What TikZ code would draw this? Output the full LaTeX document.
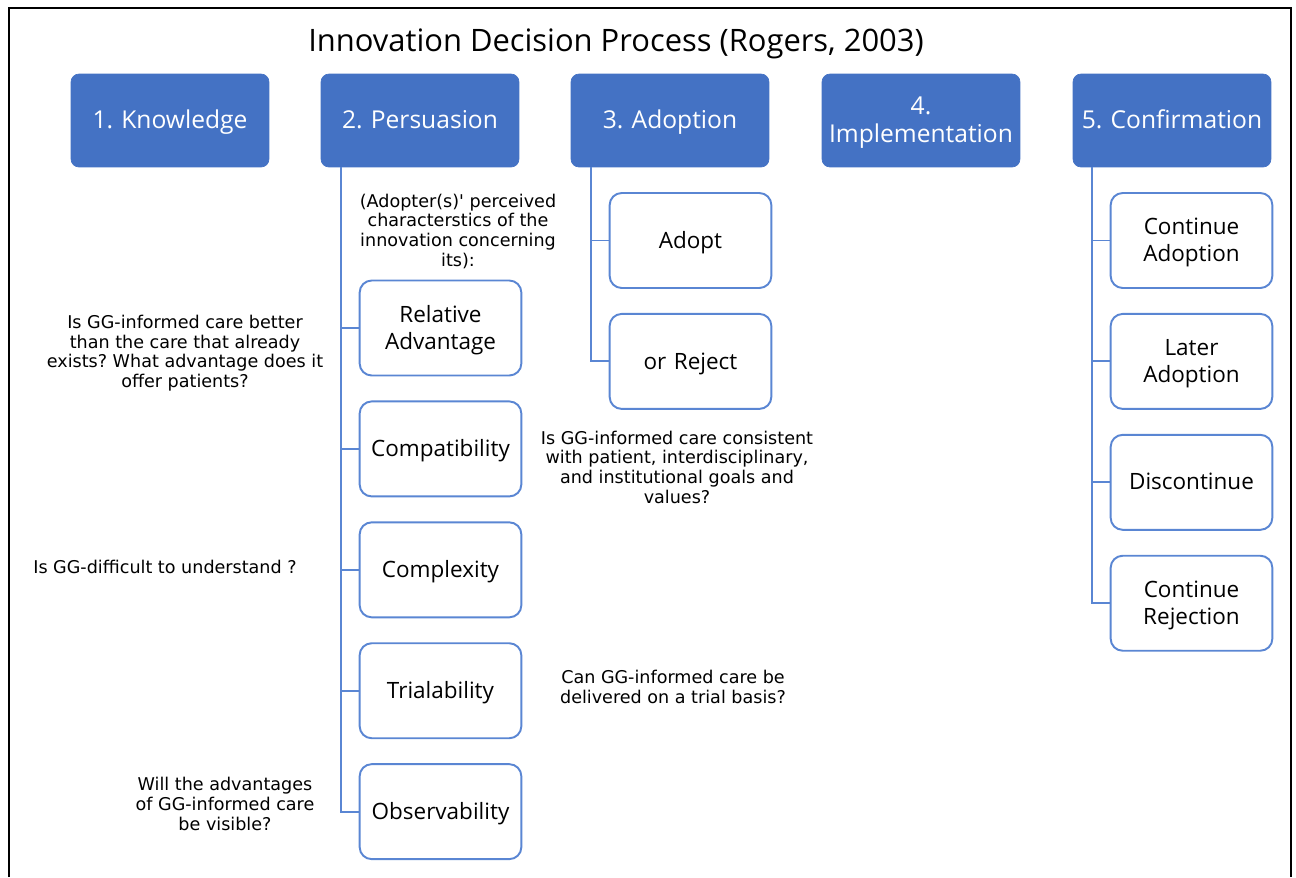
\documentclass[tikz,border=0pt]{standalone}
\usepackage{fontspec}
\setmainfont{Open Sans}
\newfontfamily\notefont{DejaVu Sans}
\usetikzlibrary{positioning}

\definecolor{stageblue}{HTML}{4472C4}
\definecolor{edgeblue}{HTML}{5A86D3}

% invisible rule of given height (#1) and depth (#2), so that
% one- and two-line labels sit on the same optical middle
\newcommand\boxstrut[2]{\rule[-#2]{0pt}{\dimexpr#1+#2\relax}}

\tikzset{
	stage/.style={fill=stageblue, draw=stageblue, rounded corners=0.16cm,
		minimum width=3.96cm, minimum height=1.86cm, text width=3.7cm,
		execute at begin node={\boxstrut{12.6pt}{3.4pt}},
		execute at end node={\boxstrut{12.6pt}{3.4pt}},
		align=center, text=white, font=\fontsize{14}{16}\selectfont},
	choice/.style={fill=white, draw=edgeblue, line width=1.1pt, rounded corners=0.24cm,
		minimum width=3.2cm, minimum height=1.9cm, text width=3cm,
		execute at begin node={\boxstrut{12pt}{3.3pt}},
		execute at end node={\boxstrut{12pt}{3.3pt}},
		align=center, font=\fontsize{12.8}{15.3}\selectfont},
	note/.style={align=center, font=\notefont\fontsize{10}{11.2}\selectfont},
	branch/.style={draw=edgeblue, line width=1.1pt},
}

\begin{document}
\frenchspacing
\begin{tikzpicture}[x=0.02cm, y=-0.02cm]
	\useasboundingbox (0,0) rectangle (1296,877);
	% outer frame, open at the bottom
	\draw[line width=1.6pt] (9,877) -- (9,8) -- (1291,8) -- (1291,877);

	\node (title) at (616,44) {\fontsize{17.6}{20}\selectfont Innovation Decision Process (Rogers, 2003)};

	% the five stages
	\node[stage] (know) at (170,120.5) {1. Knowledge};
	\node[stage] (pers) at (420,120.5) {2. Persuasion};
	\node[stage] (adop) at (670,120.5) {3. Adoption};
	\node[stage] (impl) at (921,120.5) {4.\\Implementation};
	\node[stage] (conf) at (1172,120.5) {5. Confirmation};

	% persuasion: perceived characteristics
	\node[note] (pnote) at (458,231) {(Adopter(s)' perceived\\characterstics of the\\innovation concerning\\its):};
	\node[choice] (reladv) at (440.5,328) {Relative\\Advantage};
	\node[choice, below=0.48cm of reladv] (compat) {Compatibility};
	\node[choice, below=0.48cm of compat] (complex) {Complexity};
	\node[choice, below=0.48cm of complex] (trial) {Trialability};
	\node[choice, below=0.48cm of trial] (observ) {Observability};

	\coordinate (ptop) at ([xshift=0.4cm]pers.south west);
	\foreach \c in {reladv,compat,complex,trial,observ}
		\draw[branch] (ptop) |- (\c.west);

	% adoption: adopt or reject
	\node[choice] (adopt) at (690.5,240.5) {Adopt};
	\node[choice, below=0.48cm of adopt] (reject) {or Reject};

	\coordinate (atop) at ([xshift=0.4cm]adop.south west);
	\foreach \c in {adopt,reject}
		\draw[branch] (atop) |- (\c.west);

	% confirmation outcomes
	\node[choice] (contad) at (1191.5,240.5) {Continue\\Adoption};
	\node[choice, below=0.48cm of contad] (later) {Later\\Adoption};
	\node[choice, below=0.48cm of later] (discont) {Discontinue};
	\node[choice, below=0.48cm of discont] (contrej) {Continue\\Rejection};

	\coordinate (ctop) at ([xshift=0.38cm]conf.south west);
	\foreach \c in {contad,later,discont,contrej}
		\draw[branch] (ctop) |- (\c.west);

	% guiding questions
	\node[note] (qadv) at (185,353) {Is GG-informed care better\\than the care that already\\exists? What advantage does it\\offer patients?};
	\node[note] (qcompat) at (677,467) {Is GG-informed care consistent\\with patient, interdisciplinary,\\and institutional goals and\\values?};
	\node[note] (qcomplex) at (165,567) {Is GG-difficult to understand ?};
	\node[note] (qtrial) at (673,687) {Can GG-informed care be\\delivered on a trial basis?};
	\node[note] (qobserv) at (225,804) {Will the advantages\\of GG-informed care\\be visible?};
\end{tikzpicture}
\end{document}
